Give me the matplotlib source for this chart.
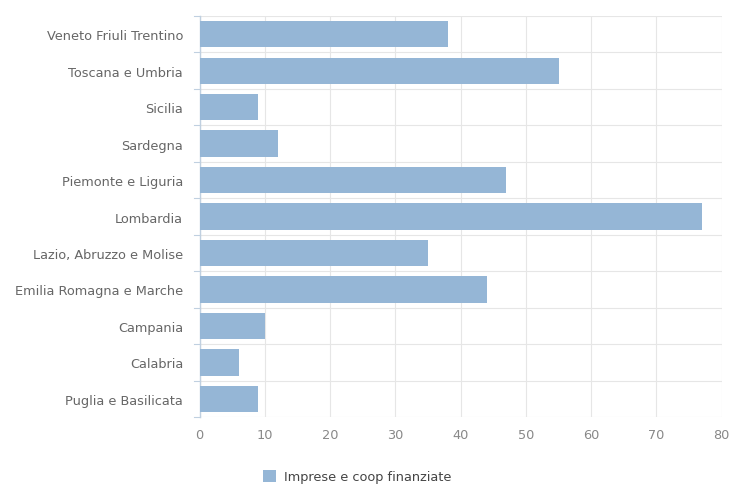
import numpy as np
import matplotlib
matplotlib.use("Agg")
import matplotlib.pyplot as plt
from matplotlib.patches import Patch

regions = ["Veneto Friuli Trentino", "Toscana e Umbria", "Sicilia", "Sardegna",
           "Piemonte e Liguria", "Lombardia", "Lazio, Abruzzo e Molise",
           "Emilia Romagna e Marche", "Campania", "Calabria", "Puglia e Basilicata"]
values = [38, 55, 9, 12, 47, 77, 35, 44, 10, 6, 9]
series_name = "Imprese e coop finanziate"
xticks = [0, 10, 20, 30, 40, 50, 60, 70, 80]

bar_color = "#95b6d6"
text_color = "#666666"

fig = plt.figure(figsize=(7.29, 4.85), dpi=100)
ax = fig.add_axes([0.274, 0.138, 0.716, 0.827])

y = np.arange(len(regions))[::-1]
ax.barh(y, values, height=0.72, color=bar_color, zorder=3)

ax.set_xlim(0, 80)
ax.set_ylim(-0.5, len(regions) - 0.5)
ax.set_xticks(xticks)
ax.set_xticklabels([str(t) for t in xticks], color="#888888", fontsize=9.3)
ax.set_yticks(y)
ax.set_yticklabels(regions, color=text_color, fontsize=9.3)
ax.tick_params(axis="x", length=0, pad=8)
ax.tick_params(axis="y", length=0, pad=12)

# grid lines: vertical at ticks, horizontal at category boundaries
for t in xticks:
    ax.axvline(t, color="#e6e6e6", lw=0.8, zorder=1)
for b in np.arange(-0.5, len(regions), 1.0):
    ax.axhline(b, color="#e6e6e6", lw=0.8, zorder=1)
    ax.plot([-0.9, 0], [b, b], color="#c0d0e0", lw=0.8, clip_on=False, zorder=2)

for s in ["top", "right", "bottom"]:
    ax.spines[s].set_visible(False)
ax.spines["left"].set_color("#c0d0e0")
ax.spines["left"].set_linewidth(1.0)

handle = Patch(facecolor=bar_color, edgecolor="none")
fig.legend([handle], [series_name], loc="center", bbox_to_anchor=(0.49, 0.015),
           frameon=False, fontsize=9.3, handlelength=1.0, handleheight=1.0,
           handletextpad=0.6, labelcolor="#444444")

fig.savefig("out.png", dpi=100)
